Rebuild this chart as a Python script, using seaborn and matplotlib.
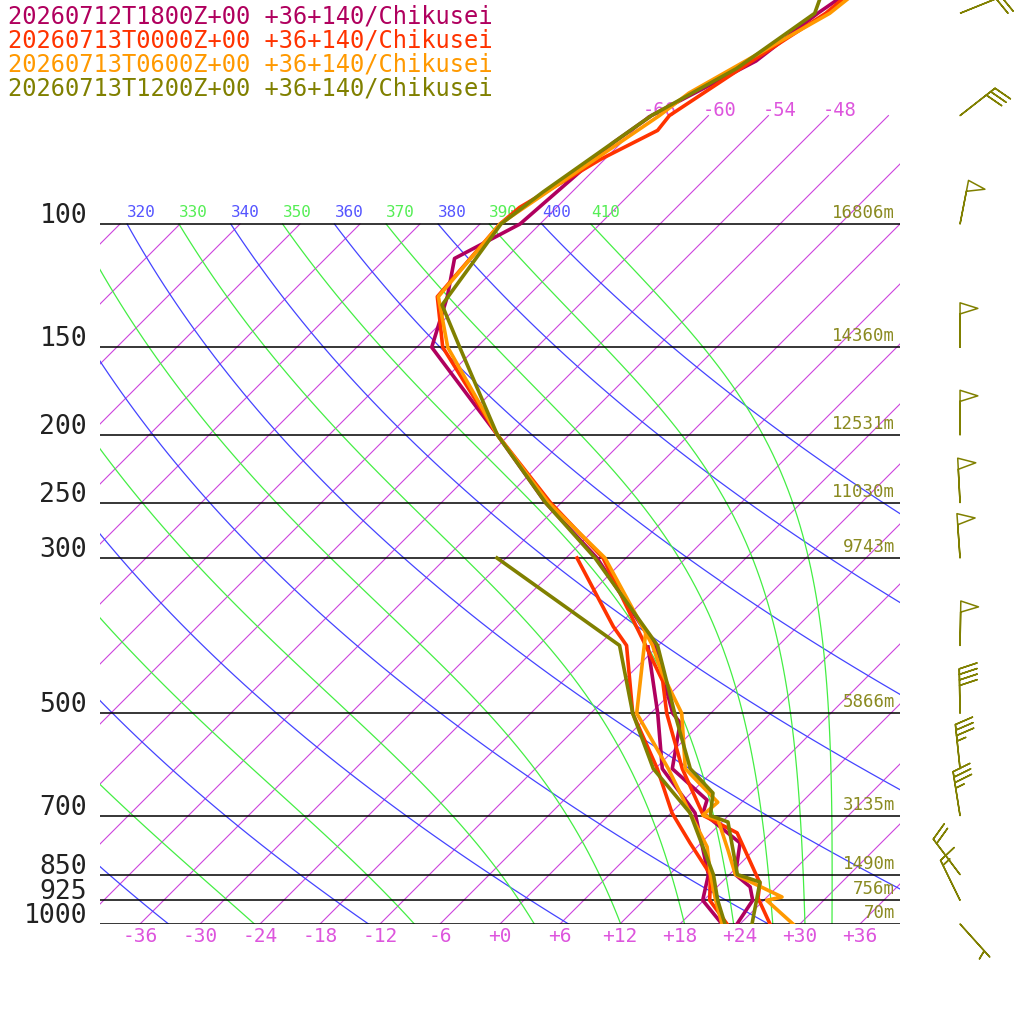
import matplotlib.pyplot as plt
import numpy as np
import pandas as pd
import seaborn as sns
from typing import List, Tuple

Sounding = pd.DataFrame

names = ["20260712T1800Z+00 +36+140/Chikusei", "20260713T0000Z+00 +36+140/Chikusei",
         "20260713T0600Z+00 +36+140/Chikusei", "20260713T1200Z+00 +36+140/Chikusei"]
colors = ["#b0005e", "#ff3300", "#ff9900", "#808000"]

# temperature profiles (hPa, degC)
purple_p = [1000, 925, 885, 850, 766, 694, 665, 600, 516, 500, 400, 300, 250, 200, 150, 127, 112, 100, 76.5, 70, 58.5, 50, 47.5]
purple_t = [23.7, 22.9, 21.3, 18.6, 15.9, 9.2, 8.3, 1.7, -2.1, -3.8, -12.4, -26.9, -37.6, -49.2, -64.5, -68.0, -71.1, -68.0, -66.8, -65.7, -60.7, -59.3, -58.6]
red_p = [1000, 918, 874, 741, 700, 600, 500, 450, 400, 300, 250, 200, 150, 127, 100, 94.7, 80.8, 73.5, 70, 58.5, 50, 47.5]
red_t = [27.0, 23.2, 21.9, 14.6, 9.5, 2.7, -4.4, -8.0, -13.3, -26.3, -37.1, -49.2, -63.4, -69.0, -70.0, -69.7, -66.4, -63.6, -63.9, -61.1, -58.5, -58.2]
orange_p = [1000, 925, 915, 850, 784, 710, 699, 670, 600, 500, 437, 400, 300, 250, 200, 150, 127, 100, 70, 65, 50, 47.5]
orange_t = [29.3, 24.3, 25.5, 18.6, 15.4, 11.4, 9.4, 9.6, 3.0, -2.9, -9.0, -12.6, -26.1, -37.3, -49.2, -62.9, -68.9, -70.0, -64.9, -64.2, -58.1, -57.7]
olive_p = [1000, 871, 850, 715, 700, 650, 600, 500, 400, 300, 250, 200, 150, 130.5, 100, 90, 80, 70, 60, 50, 47.5]
olive_t = [25.2, 21.8, 18.8, 12.6, 10.2, 8.2, 3.5, -3.6, -12.1, -27.1, -37.6, -49.2, -61.7, -67.7, -69.9, -68.9, -67.4, -65.7, -61.9, -59.6, -60.6]

# dewpoint profiles (hPa, degC)
purple_dp = [1000, 925, 850, 694, 600, 500, 402]
purple_td = [22.2, 17.9, 15.9, 8.4, 0.7, -5.3, -12.9]
red_dp = [1000, 925, 850, 766, 694, 600, 500, 400, 376, 300]
red_td = [22.7, 18.6, 16.1, 10.9, 6.1, 0.2, -7.8, -15.2, -18.4, -28.9]
orange_dp = [1000, 925, 850, 776, 694, 600, 500, 383]
orange_td = [22.2, 19.2, 16.1, 13.0, 7.9, 1.3, -7.4, -14.6]
olive_dp = [1000, 925, 850, 694, 600, 500, 400, 300]
olive_td = [22.5, 19.4, 16.4, 7.9, -0.2, -7.8, -15.9, -36.9]

levels = [1000, 925, 850, 700, 500, 300, 250, 200, 150, 100]
heights = ["70m", "756m", "1490m", "3135m", "5866m", "9743m", "11030m", "12531m", "14360m", "16806m"]
temp_ticks = [-36, -30, -24, -18, -12, -6, 0, 6, 12, 18, 24, 30, 36]
theta_dry = [200, 220, 240, 260, 280, 300, 320, 340, 360, 380, 400]
theta_moist = [250, 270, 290, 310, 330, 350, 370, 390, 410]
iso_labels = [-66, -60, -54, -48]

# olive winds
wind_p = [50, 70, 100, 150, 200, 250, 300, 400, 500, 600, 700, 850, 925, 1000]
wind_dir = [68, 52, 11, 0, 0, 357, 356, 1, 359, 354, 351, 323, 334, 138]
wind_kt = [20, 30, 50, 50, 50, 50, 50, 50, 40, 35, 35, 20, 15, 5]

def height(p) -> np.ndarray:
  return 304.0 * np.log(1000.0 / np.asarray(p, dtype=float))

def skew(t, p) -> np.ndarray:
  return 500.0 + 10.0 * np.asarray(t, dtype=float) + height(p)

def moistTemp(thetae: float, p: np.ndarray) -> np.ndarray:
  lo = np.full_like(p, 150.0)
  hi = np.full_like(p, 330.0)
  for _ in range(50):
    t = 0.5 * (lo + hi)
    es = 6.112 * np.exp(17.67 * (t - 273.15) / (t - 29.65))
    ws = 0.622 * es / (p - es)
    te = t * (1000.0 / p) ** 0.2854 * np.exp(2675.0 * ws / t)
    lo = np.where(te < thetae, t, lo)
    hi = np.where(te >= thetae, t, hi)
  return 0.5 * (lo + hi) - 273.15

def toFrame(p: List[float], t: List[float]) -> Sounding:
  return pd.DataFrame({"x": skew(t, p), "y": height(p)})

def plotBackground(ax) -> None:
  mono = "DejaVu Sans Mono"
  for t in range(-126, 60, 6):
    pp = np.array([1000.0, 70.0 if t >= -66 else 100.0])
    ax.plot(skew([t, t], pp), height(pp), color="#cc44dd", lw=0.8, zorder=1)
  for t in iso_labels:
    ax.text(skew(t, 70) - 6, 814, "%d" % t, color="#dd55dd", fontsize=13.5, family=mono, va="center")
  pp = np.geomspace(1000, 100, 80)
  for th in theta_dry:
    tt = th * (pp / 1000.0) ** 0.2854 - 273.15
    ax.plot(skew(tt, pp), height(pp), color="#4444ff", lw=0.9, zorder=1)
    if skew(tt[-1], 100) > 90:
      ax.text(skew(tt[-1], 100), height(100) + 4, str(th), color="#5555ff", fontsize=11.5, family=mono, va="bottom", clip_on=True)
  for th in theta_moist:
    tt = moistTemp(th, pp)
    ax.plot(skew(tt, pp), height(pp), color="#44ee44", lw=0.9, zorder=1)
    if skew(tt[-1], 100) > 90:
      ax.text(skew(tt[-1], 100), height(100) + 4, str(th), color="#55ee55", fontsize=11.5, family=mono, va="bottom", clip_on=True)
  for lev, h in zip(levels, heights):
    ax.plot([100, 900], [height(lev)] * 2, color="black", lw=1.1, zorder=2)
    ax.text(895, height(lev) + 2, h, color="#8a8a20", fontsize=12.5, family=mono, ha="right", va="bottom")
    ax.text(87, height(lev) + 8, str(lev), color="#222222", fontsize=19, family=mono, ha="right", va="center", clip_on=False)
  for t in temp_ticks:
    label = ("+%d" % t) if t >= 0 else "%d" % t
    ax.text(500 + 10 * t, -12, label, color="#dd55dd", fontsize=14, family=mono, ha="center", va="center", clip_on=False)

def plotSoundings(ax) -> None:
  temps = [(purple_p, purple_t), (red_p, red_t), (orange_p, orange_t), (olive_p, olive_t)]
  dews = [(purple_dp, purple_td), (red_dp, red_td), (orange_dp, orange_td), (olive_dp, olive_td)]
  for (tp, tt), (dp, dt), c in zip(temps, dews, colors):
    for df in [toFrame(tp, tt), toFrame(dp, dt)]:
      sns.lineplot(data=df, x="x", y="y", sort=False, estimator=None, color=c, lw=2.6, ax=ax, zorder=5)

def plotWinds(ax) -> None:
  d = np.radians(wind_dir)
  s = np.asarray(wind_kt, dtype=float)
  b = ax.barbs(np.full(len(s), 0.385), height(wind_p), -s * np.sin(d), -s * np.cos(d),
               length=8, facecolor="none", edgecolor="#808000", linewidth=1.1, sizes=dict(emptybar=0))
  b.set_clip_on(False)
  ax.set_xlim(0, 1)
  ax.set_ylim(0, 924)
  ax.axis("off")

fig = plt.figure(figsize=(10.24, 10.24), dpi=100)
ax = fig.add_axes([100 / 1024, 100 / 1024, 800 / 1024, 924 / 1024])
ax.set_xlim(100, 900)
ax.set_ylim(0, 924)
plotBackground(ax)
plotSoundings(ax)
ax.set_xlabel("")
ax.set_ylabel("")
ax.axis("off")
for i, (n, c) in enumerate(zip(names, colors)):
  fig.text(8 / 1024, 1 - (17 + 24 * i) / 1024, n, color=c, fontsize=17.1, family="DejaVu Sans Mono", va="center")
wax = fig.add_axes([920 / 1024, 100 / 1024, 104 / 1024, 924 / 1024])
plotWinds(wax)
plt.savefig("out.png", dpi=100)
